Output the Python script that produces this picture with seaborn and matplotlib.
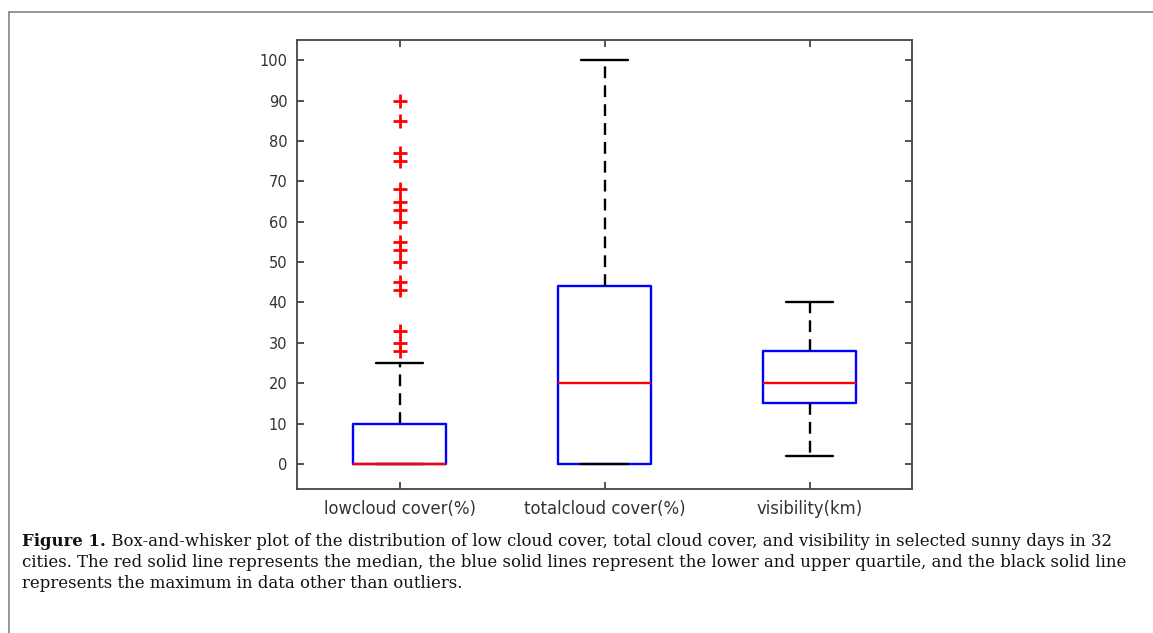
import matplotlib
matplotlib.use("Agg")
import matplotlib.pyplot as plt
import pandas as pd
import seaborn as sns
from matplotlib.lines import Line2D

# ---------------- data ----------------
categories = ["lowcloud cover(%)", "totalcloud cover(%)", "visibility(km)"]

# low cloud cover (%) samples: mostly zero, quartiles 0/0/10, whisker 25, many outliers
lowcloud_cover = [
    0, 0, 0, 0, 0, 0, 0, 0, 0, 0, 0, 0, 0, 0, 0, 0, 0, 0, 0, 0,
    0, 0, 0, 0, 0, 0, 0, 0, 0, 0, 0, 0, 0, 0, 0, 0, 0,
    0, 0, 0, 0, 1, 1, 2, 2, 3, 3, 4, 5, 5, 6, 7, 8, 9, 10, 10,
    25, 28, 30, 33, 43, 45, 50, 53, 55, 60, 63, 65, 68, 75, 77, 85, 90,
]
# total cloud cover (%): min 0, Q1 0, median 20, Q3 44, max 100
totalcloud_cover = [0, 0, 20, 44, 100]
# visibility (km): min 2, Q1 15, median 20, Q3 28, max 40
visibility = [2, 15, 20, 28, 40]

y_ticks = [0, 10, 20, 30, 40, 50, 60, 70, 80, 90, 100]

caption_bold = "Figure 1."
caption_line1 = (" Box-and-whisker plot of the distribution of low cloud cover, total cloud cover, "
                 "and visibility in selected sunny days in 32")
caption_line2 = ("cities. The red solid line represents the median, the blue solid lines represent "
                 "the lower and upper quartile, and the black solid line")
caption_line3 = "represents the maximum in data other than outliers."

df = pd.DataFrame({
    "category": [categories[0]] * len(lowcloud_cover)
    + [categories[1]] * len(totalcloud_cover)
    + [categories[2]] * len(visibility),
    "value": lowcloud_cover + totalcloud_cover + visibility,
})

# ---------------- style ----------------
sns.set_theme(style="white")
plt.rcParams["font.family"] = ["DejaVu Sans"]

fig = plt.figure(figsize=(11.53, 6.33), dpi=100)
fig.patch.set_facecolor("white")
ax = fig.add_axes([0.2576, 0.2275, 0.5334, 0.7093])

sns.boxplot(
    data=df, x="category", y="value", order=categories, ax=ax,
    fill=False, width=0.45, whis=1.5,
    linewidth=1.5,
    boxprops=dict(color="#0000ff", linewidth=1.7),
    medianprops=dict(color="#ff0000", linewidth=1.7),
    whiskerprops=dict(color="black", linewidth=1.7, linestyle=(0, (5, 3))),
    capprops=dict(color="black", linewidth=1.7),
    flierprops=dict(marker="+", markeredgecolor="#ff0000", markerfacecolor="#ff0000",
                    markersize=10, markeredgewidth=2.0, linestyle="none"),
)

ax.set_xlim(-0.5, 2.5)
ax.set_ylim(-6.2, 105)
ax.set_yticks(y_ticks)
ax.set_yticklabels([str(t) for t in y_ticks])
ax.set_xlabel("")
ax.set_ylabel("")

for s in ax.spines.values():
    s.set_visible(True)
    s.set_color("#444444")
    s.set_linewidth(1.3)

ax.tick_params(axis="both", which="major", direction="in", length=5, width=1.3,
               color="#444444", labelcolor="#333333",
               top=True, right=True, left=True, bottom=True)
ax.tick_params(axis="y", pad=7, labelsize=10.5)
ax.tick_params(axis="x", pad=8, labelsize=11.9)

# ---------------- frame and caption ----------------
fig.add_artist(Line2D([9 / 1153, 1.0], [1 - 12 / 633, 1 - 12 / 633],
                      transform=fig.transFigure, color="#8c8c8c", linewidth=1.3))
fig.add_artist(Line2D([9 / 1153, 9 / 1153], [0.0, 1 - 12 / 633],
                      transform=fig.transFigure, color="#8c8c8c", linewidth=1.3))

serif = ["DejaVu Serif"]
cap_size = 11.9
x0 = 22 / 1153
t_bold = fig.text(x0, 1 - 546 / 633, caption_bold, family=serif, fontsize=cap_size,
                  fontweight="bold", color="#111111", va="baseline", ha="left")
fig.canvas.draw()
ax.annotate(caption_line1, xy=(1, 0), xycoords=t_bold, va="bottom", ha="left",
            family=serif, fontsize=cap_size, color="#111111", annotation_clip=False)
fig.text(x0, 1 - 567 / 633, caption_line2, family=serif, fontsize=cap_size,
         color="#111111", va="baseline", ha="left")
fig.text(x0, 1 - 588 / 633, caption_line3, family=serif, fontsize=cap_size,
         color="#111111", va="baseline", ha="left")

fig.savefig("out.png", dpi=100, facecolor="white")
